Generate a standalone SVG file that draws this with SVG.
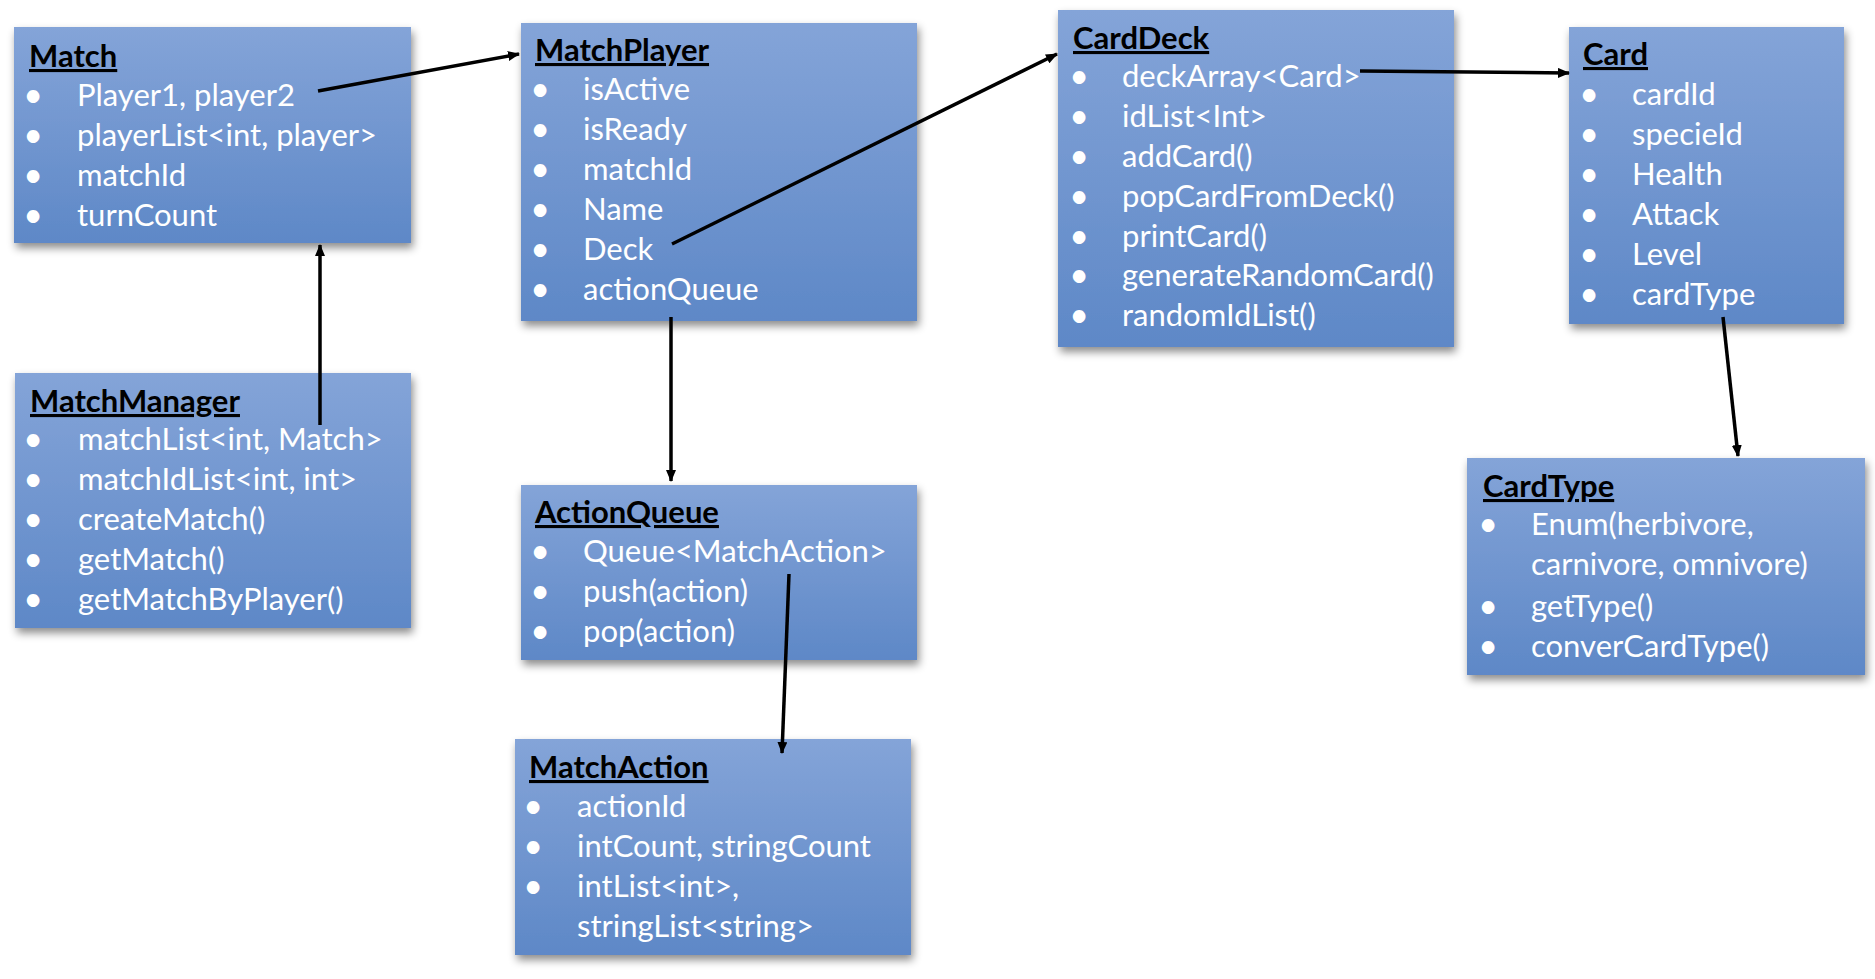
<svg xmlns="http://www.w3.org/2000/svg" width="1875" height="979" viewBox="0 0 1875 979">
<defs>
<linearGradient id="bg" x1="0" y1="0" x2="0" y2="1">
<stop offset="0" stop-color="#84a4d8"/>
<stop offset="1" stop-color="#5e88c7"/>
</linearGradient>
<filter id="sh" x="-10%" y="-10%" width="125%" height="130%">
<feDropShadow dx="2" dy="5" stdDeviation="4" flood-color="#000" flood-opacity="0.45"/>
</filter>
<marker id="ah" markerUnits="userSpaceOnUse" markerWidth="12" markerHeight="10" refX="11" refY="5" orient="auto">
<path d="M0,0 L12,5 L0,10 z" fill="#000"/>
</marker>
</defs>
<style>
.box{fill:url(#bg);filter:url(#sh)}
.t{font-family:Lato,"Open Sans",sans-serif;font-size:31px;font-weight:bold;fill:#000;text-decoration:underline}
.r{font-family:Lato,"Open Sans",sans-serif;font-size:31px;fill:#fff}
.b{font-family:Lato,"Open Sans",sans-serif;font-size:34px;fill:#fff;text-anchor:middle}
.c{stroke:#000;stroke-width:3.5;fill:none;marker-end:url(#ah)}
</style>
<rect width="1875" height="979" fill="#fff"/>
<g id="Match">
<rect class="box" x="14" y="27" width="397" height="216"/>
<text class="t" x="29" y="67">Match</text>
<text class="b" x="33" y="107">•</text><text class="r" x="77" y="106">Player1, player2</text>
<text class="b" x="33" y="147">•</text><text class="r" x="77" y="146">playerList&lt;int, player&gt;</text>
<text class="b" x="33" y="187">•</text><text class="r" x="77" y="186">matchId</text>
<text class="b" x="33" y="227">•</text><text class="r" x="77" y="226">turnCount</text>
</g>
<g id="MatchPlayer">
<rect class="box" x="521" y="23" width="396" height="298"/>
<text class="t" x="535" y="61">MatchPlayer</text>
<text class="b" x="540" y="101">•</text><text class="r" x="583" y="100">isActive</text>
<text class="b" x="540" y="141">•</text><text class="r" x="583" y="140">isReady</text>
<text class="b" x="540" y="181">•</text><text class="r" x="583" y="180">matchId</text>
<text class="b" x="540" y="221">•</text><text class="r" x="583" y="220">Name</text>
<text class="b" x="540" y="261">•</text><text class="r" x="583" y="260">Deck</text>
<text class="b" x="540" y="301">•</text><text class="r" x="583" y="300">actionQueue</text>
</g>
<g id="CardDeck">
<rect class="box" x="1058" y="10" width="396" height="337"/>
<text class="t" x="1073" y="49">CardDeck</text>
<text class="b" x="1079" y="88">•</text><text class="r" x="1122" y="87">deckArray&lt;Card&gt;</text>
<text class="b" x="1079" y="128">•</text><text class="r" x="1122" y="127">idList&lt;Int&gt;</text>
<text class="b" x="1079" y="168">•</text><text class="r" x="1122" y="167">addCard()</text>
<text class="b" x="1079" y="208">•</text><text class="r" x="1122" y="207">popCardFromDeck()</text>
<text class="b" x="1079" y="248">•</text><text class="r" x="1122" y="247">printCard()</text>
<text class="b" x="1079" y="287">•</text><text class="r" x="1122" y="286">generateRandomCard()</text>
<text class="b" x="1079" y="327">•</text><text class="r" x="1122" y="326">randomIdList()</text>
</g>
<g id="Card">
<rect class="box" x="1569" y="27" width="275" height="297"/>
<text class="t" x="1583" y="65">Card</text>
<text class="b" x="1589" y="106">•</text><text class="r" x="1632" y="105">cardId</text>
<text class="b" x="1589" y="146">•</text><text class="r" x="1632" y="145">specieId</text>
<text class="b" x="1589" y="186">•</text><text class="r" x="1632" y="185">Health</text>
<text class="b" x="1589" y="226">•</text><text class="r" x="1632" y="225">Attack</text>
<text class="b" x="1589" y="266">•</text><text class="r" x="1632" y="265">Level</text>
<text class="b" x="1589" y="306">•</text><text class="r" x="1632" y="305">cardType</text>
</g>
<g id="MatchManager">
<rect class="box" x="15" y="373" width="396" height="255"/>
<text class="t" x="30" y="412">MatchManager</text>
<text class="b" x="33" y="451">•</text><text class="r" x="78" y="450">matchList&lt;int, Match&gt;</text>
<text class="b" x="33" y="491">•</text><text class="r" x="78" y="490">matchIdList&lt;int, int&gt;</text>
<text class="b" x="33" y="531">•</text><text class="r" x="78" y="530">createMatch()</text>
<text class="b" x="33" y="571">•</text><text class="r" x="78" y="570">getMatch()</text>
<text class="b" x="33" y="611">•</text><text class="r" x="78" y="610">getMatchByPlayer()</text>
</g>
<g id="ActionQueue">
<rect class="box" x="521" y="485" width="396" height="175"/>
<text class="t" x="535" y="523">ActionQueue</text>
<text class="b" x="540" y="563">•</text><text class="r" x="583" y="562">Queue&lt;MatchAction&gt;</text>
<text class="b" x="540" y="603">•</text><text class="r" x="583" y="602">push(action)</text>
<text class="b" x="540" y="643">•</text><text class="r" x="583" y="642">pop(action)</text>
</g>
<g id="MatchAction">
<rect class="box" x="515" y="739" width="396" height="216"/>
<text class="t" x="529" y="778">MatchAction</text>
<text class="b" x="533" y="818">•</text><text class="r" x="577" y="817">actionId</text>
<text class="b" x="533" y="858">•</text><text class="r" x="577" y="857">intCount, stringCount</text>
<text class="b" x="533" y="898">•</text><text class="r" x="577" y="897">intList&lt;int&gt;,</text>
<text class="r" x="577" y="937">stringList&lt;string&gt;</text>
</g>
<g id="CardType">
<rect class="box" x="1467" y="458" width="398" height="217"/>
<text class="t" x="1483" y="497">CardType</text>
<text class="b" x="1488" y="536">•</text><text class="r" x="1531" y="535">Enum(herbivore,</text>
<text class="r" x="1531" y="575">carnivore, omnivore)</text>
<text class="b" x="1488" y="618">•</text><text class="r" x="1531" y="617">getType()</text>
<text class="b" x="1488" y="658">•</text><text class="r" x="1531" y="657">converCardType()</text>
</g>
<g id="connectors">
<line class="c" x1="318" y1="91" x2="519" y2="54"/>
<line class="c" x1="320" y1="425" x2="320" y2="245"/>
<line class="c" x1="672" y1="244" x2="1057" y2="54"/>
<line class="c" x1="1360" y1="71" x2="1569" y2="73"/>
<line class="c" x1="671" y1="317" x2="671" y2="481"/>
<line class="c" x1="789" y1="574" x2="782" y2="753"/>
<line class="c" x1="1723" y1="317" x2="1738" y2="456"/>
</g>
</svg>
